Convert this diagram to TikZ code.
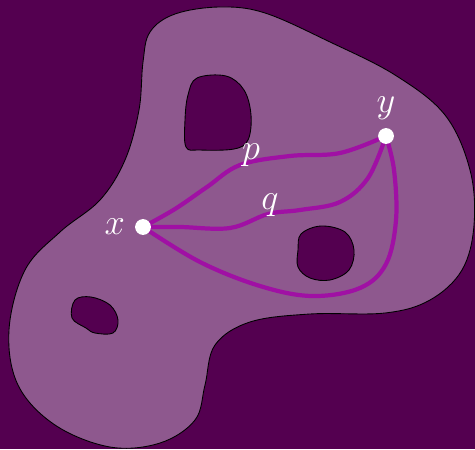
\documentclass[tikz,border=0pt]{standalone}
\usepackage{tikz}
\usetikzlibrary{positioning,backgrounds}
\definecolor{regiondark} {HTML}{540050}
\definecolor{regionlight}{HTML}{8E588E}
\definecolor{pathpurple} {HTML}{A010A4}

\begin{document}
\begin{tikzpicture}[
  x=0.02cm, y=-0.02cm,
  region/.style={draw=black,line width=0.5pt,fill=regionlight},
  hole/.style={draw=black,line width=0.5pt,fill=regiondark},
  curve/.style={pathpurple,line width=2.4pt,line cap=round},
  dot/.style={circle,fill=white,inner sep=0pt,minimum size=9pt},
  lbl/.style={text=white,font=\fontsize{20}{24}\selectfont}
]
%% Background
\fill[regiondark] (0,0) rectangle (475,449);
\useasboundingbox (0,0) rectangle (475,449);

%% Region with its boundary
\draw[region] plot[smooth cycle,tension=0.6] coordinates {
  (143,62) (150,32) (175,14) (220,7) (265,13) (330,42) (395,75) (445,115)
  (470,170) (474,225) (462,270) (430,300) (385,313) (310,314)
  (250,322) (215,345) (205,385) (195,420) (160,443) (110,447)
  (55,425) (18,385) (9,330) (25,270) (60,232) (100,200)
  (125,160) (139,110)};

%% Holes
\draw[hole] plot[smooth cycle,tension=0.6] coordinates {
  (197,78) (226,76) (244,90) (251,115) (248,140) (234,149)
  (200,150) (186,147) (185,120) (188,95)};
\draw[hole] plot[smooth cycle,tension=0.6] coordinates {
  (301,234) (321,226) (345,232) (354,250) (349,270) (330,280)
  (310,278) (298,267) (298,250)};
\draw[hole] plot[smooth cycle,tension=0.6] coordinates {
  (75,300) (91,297) (110,305) (118,320) (113,333) (95,333)
  (86,328) (72,318)};

%% End points
\coordinate (px) at (143,227);
\coordinate (py) at (386,136);

%% Paths from x to y
\draw[curve] plot[smooth,tension=0.6] coordinates {
  (px) (175,209) (207,187) (240,165) (290,156) (340,153) (py)};
\draw[curve] plot[smooth,tension=0.6] coordinates {
  (px) (180,227) (230,228) (268,214) (300,210) (340,202) (368,178) (py)};
\draw[curve] plot[smooth,tension=0.6] coordinates {
  (px) (200,262) (260,286) (312,296) (360,288) (386,264) (396,220)
  (394,170) (py)};

%% Dots and labels
\node[dot] (x) at (px) {};
\node[dot] (y) at (py) {};
\node[lbl,left=2pt of x]  (xlab) {$x$};
\node[lbl,above=1pt of y] (ylab) {$y$};
\node[lbl] (plab) at (251,155) {$p$};
\node[lbl] (qlab) at (270,205) {$q$};

\end{tikzpicture}
\end{document}
